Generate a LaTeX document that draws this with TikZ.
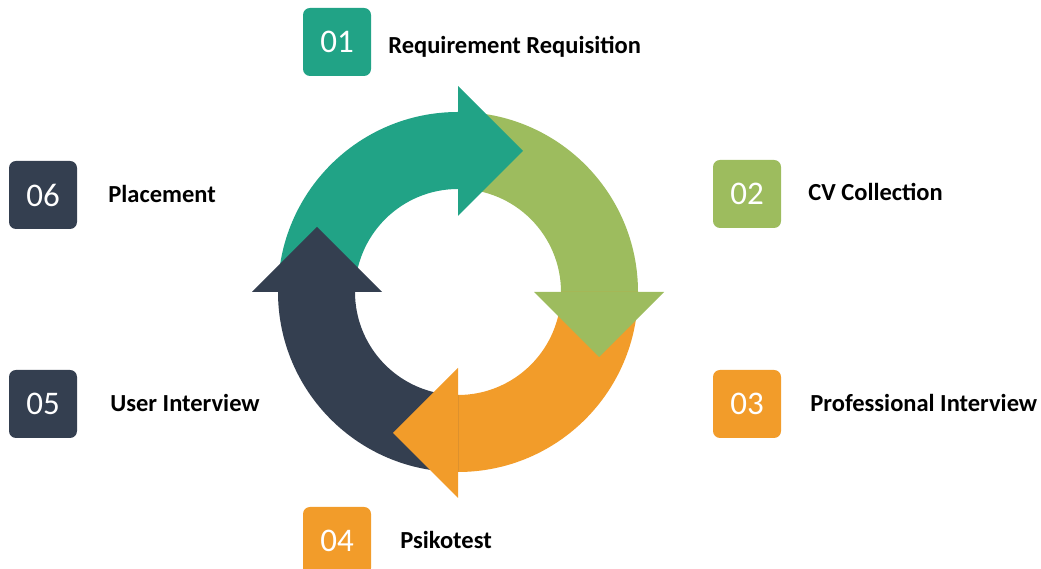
\documentclass[tikz,border=0pt]{standalone}
\usepackage{fontspec}
\setmainfont{Carlito}
\usepackage{tikz}
\usetikzlibrary{positioning}
\definecolor{stepteal}{HTML}{21A386}
\definecolor{stepgreen}{HTML}{9DBC5E}
\definecolor{steporange}{HTML}{F29C2A}
\definecolor{stepdark}{HTML}{343F50}
\tikzstyle{numbox} = [rectangle, rounded corners=7pt, minimum size=68pt, inner sep=0pt, text=white, font=\fontsize{33}{33}\selectfont]
\tikzstyle{steplabel} = [inner sep=0pt, text height=15.5pt, text depth=0pt, font=\fontsize{24.5}{24.5}\selectfont\bfseries]

\begin{document}
\begin{tikzpicture}[x=1pt, y=1pt]
		\useasboundingbox (0,0) rectangle (1041,569);
		\coordinate (centre) at (458,277);
		\coordinate (b01) at (337,527);
		\coordinate (b02) at (747,375);
		\coordinate (b03) at (747,165);
		\coordinate (b04) at (337,28);
		\coordinate (b05) at (43,165);
		\coordinate (b06) at (43,374);
		% Ring segments
		\begin{scope}[shift={(centre)}]
		\fill[stepteal] (180:180) arc[start angle=180, end angle=90, radius=180] -- (90:103) arc[start angle=90, end angle=180, radius=103] -- cycle;
		\fill[stepgreen] (90:180) arc[start angle=90, end angle=0, radius=180] -- (0:103) arc[start angle=0, end angle=90, radius=103] -- cycle;
		\fill[steporange] (0:180) arc[start angle=0, end angle=-90, radius=180] -- (-90:103) arc[start angle=-90, end angle=0, radius=103] -- cycle;
		\fill[stepdark] (-90:180) arc[start angle=-90, end angle=-180, radius=180] -- (-180:103) arc[start angle=-180, end angle=-90, radius=103] -- cycle;
		% Arrow heads
		\fill[stepteal] (90:76) -- (90:206) -- ++(65,-65) -- cycle;
		\fill[stepgreen] (0:76) -- (0:206) -- ++(-65,-65) -- cycle;
		\fill[steporange] (-90:76) -- (-90:206) -- ++(-65,65) -- cycle;
		\fill[stepdark] (180:76) -- (180:206) -- ++(65,65) -- cycle;
		\end{scope}
		% Number boxes
		\node[numbox, fill=stepteal, name=n01] at (b01) {01};
		\node[numbox, fill=stepgreen, name=n02] at (b02) {02};
		\node[numbox, fill=steporange, name=n03] at (b03) {03};
		\node[numbox, fill=steporange, name=n04] at (b04) {04};
		\node[numbox, fill=stepdark, name=n05] at (b05) {05};
		\node[numbox, fill=stepdark, name=n06] at (b06) {06};
		% Labels
		\node[steplabel, right=17pt of n01, yshift=-3.5pt, name=l01] {Requirement Requisition};
		\node[steplabel, right=27pt of n02, yshift=1pt, name=l02] {CV Collection};
		\node[steplabel, right=29pt of n03, name=l03] {Professional Interview};
		\node[steplabel, right=29pt of n04, name=l04] {Psikotest};
		\node[steplabel, right=33pt of n05, name=l05] {User Interview};
		\node[steplabel, right=31pt of n06, name=l06] {Placement};
\end{tikzpicture}
\end{document}
